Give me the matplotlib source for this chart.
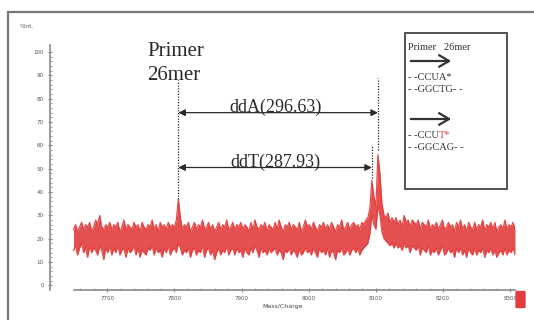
import numpy as np
import matplotlib

matplotlib.use("Agg")
import matplotlib.pyplot as plt
from matplotlib.patches import Rectangle, FancyBboxPatch, FancyArrowPatch
from matplotlib.ticker import FixedLocator

# spectrum binned every 3 m/z units starting at 7650;
# each bin keeps the highest and lowest point of the raw trace
MZ_START = 7650
MZ_STEP = 3
env_high = [
    24, 26, 23, 25, 27, 24, 26, 25, 27, 23, 25, 28, 26, 30, 25, 24, 26, 25, 27, 24,
    26, 25, 27, 23, 25, 28, 24, 26, 25, 24, 27, 25, 26, 23, 27, 25, 24, 26, 25, 28,
    24, 26, 23, 27, 25, 26, 24, 27, 25, 26, 25, 28, 37, 29, 24, 26, 25, 27, 23, 25,
    27, 24, 26, 25, 28, 24, 25, 27, 24, 26, 23, 25, 27, 24, 26, 25, 28, 24, 25, 27,
    24, 26, 25, 27, 24, 26, 25, 23, 27, 24, 28, 25, 24, 26, 25, 27, 23, 26, 25, 24,
    27, 24, 28, 25, 23, 26, 25, 27, 24, 26, 25, 24, 27, 23, 25, 28, 25, 26, 24, 27,
    25, 23, 26, 25, 27, 24, 26, 24, 27, 25, 23, 26, 25, 28, 24, 25, 27, 24, 26, 27,
    25, 26, 24, 27, 26, 28, 29, 33, 45, 38, 34, 56, 48, 35, 30, 29, 31, 27, 29, 27,
    29, 26, 28, 25, 30, 27, 28, 25, 28, 27, 26, 28, 24, 27, 26, 25, 28, 24, 26, 25,
    27, 24, 26, 28, 24, 25, 27, 25, 26, 23, 27, 25, 28, 24, 26, 23, 27, 25, 24, 27,
    24, 26, 25, 28, 23, 26, 25, 27, 24, 27, 23, 25, 26, 24, 28, 24, 26, 25, 27, 24,
]
env_low = [
    15, 17, 13, 16, 18, 14, 16, 12, 17, 14, 16, 15, 13, 17, 15, 11, 16, 14, 17, 13,
    16, 14, 17, 13, 15, 16, 12, 16, 14, 15, 17, 13, 16, 12, 15, 14, 13, 16, 15, 17,
    13, 16, 14, 15, 12, 16, 14, 17, 13, 15, 16, 14, 18, 16, 13, 15, 14, 16, 12, 15,
    16, 13, 15, 14, 17, 12, 15, 16, 13, 15, 11, 14, 16, 13, 15, 14, 17, 13, 15, 16,
    13, 16, 14, 15, 12, 16, 14, 13, 16, 14, 17, 15, 12, 16, 14, 15, 13, 16, 14, 15,
    16, 13, 15, 14, 11, 15, 14, 16, 13, 15, 14, 12, 16, 13, 14, 16, 14, 15, 13, 16,
    14, 12, 16, 14, 15, 13, 16, 12, 15, 14, 11, 15, 14, 16, 13, 14, 16, 13, 15, 16,
    14, 16, 13, 15, 16, 17, 18, 22, 30, 26, 24, 34, 30, 23, 20, 19, 18, 17, 18, 16,
    18, 16, 17, 15, 18, 16, 17, 14, 17, 16, 15, 17, 13, 16, 15, 14, 17, 13, 15, 14,
    16, 13, 15, 17, 13, 14, 16, 14, 15, 12, 16, 14, 16, 13, 15, 12, 16, 14, 13, 16,
    13, 15, 14, 16, 12, 15, 14, 16, 13, 15, 12, 14, 15, 13, 16, 13, 15, 14, 16, 13,
]
mz = MZ_START + MZ_STEP * np.arange(len(env_high))

# peak positions (m/z) and heights
primer_mz, primer_top = 7806, 37
ddT_mz, ddT_top = 8094, 45
ddA_mz, ddA_top = 8103, 56
ddA_label = "ddA(296.63)"
ddT_label = "ddT(287.93)"

x_ticks = [7700, 7800, 7900, 8000, 8100, 8200, 8300]
y_ticks = [0, 10, 20, 30, 40, 50, 60, 70, 80, 90, 100]

W, H = 534, 320
GRAY = "#8a8a8a"
INK = "#2a2a2a"
RED = "#e23c3c"
SERIF = ["Liberation Serif", "DejaVu Serif"]


def fx(px):
    return px / W


def fy(py):
    return 1 - py / H


fig = plt.figure(figsize=(W / 100, H / 100), dpi=100)
ax = fig.add_axes([fx(50), fy(290), fx(515) - fx(50), fy(45) - fy(290)])

# dense trace: solid band between the bin extremes, ragged edges on top
ax.fill_between(mz, env_low, env_high, color=RED, alpha=0.9, lw=0)
ax.plot(mz, env_high, color=RED, lw=0.9, alpha=0.9)
ax.plot(mz, env_low, color=RED, lw=0.9, alpha=0.9)

ax.set_xlim(7615, 8307)
ax.set_ylim(-2, 103)
for s in ("top", "right"):
    ax.spines[s].set_visible(False)
ax.spines["bottom"].set_bounds(7650, 8307)
ax.spines["left"].set_bounds(-2, 103)
for s in ("bottom", "left"):
    ax.spines[s].set_color(GRAY)
    ax.spines[s].set_linewidth(1.2)

ax.set_xticks(x_ticks)
ax.set_xticklabels([str(v) for v in x_ticks])
ax.xaxis.set_minor_locator(FixedLocator(list(range(7660, 8301, 20))))
ax.set_yticks(y_ticks)
ax.set_yticklabels([str(v) for v in y_ticks])
ax.yaxis.set_minor_locator(FixedLocator(list(range(0, 101, 2))))
ax.tick_params(axis="both", which="major", colors=GRAY, labelcolor="#555555",
               labelsize=4, length=3, width=0.8, direction="inout", pad=3)
ax.tick_params(axis="both", which="minor", colors=GRAY, length=1.5, width=0.6,
               direction="in")
ax.set_xlabel("Mass/Charge", fontsize=4.5, color="#444444", labelpad=2)

# dotted markers at the primer and extension peaks
dot = dict(color=INK, lw=0.9, ls=(0, (1, 1.2)))
ax.plot([primer_mz, primer_mz], [primer_top, 88], **dot)
ax.plot([ddA_mz, ddA_mz], [ddA_top + 2, 89], **dot)
ax.plot([ddT_mz, ddT_mz], [ddT_top + 1, 60], **dot)

# mass difference arrows
arrow = dict(arrowstyle="<|-|>", color=INK, lw=0.9, mutation_scale=10,
             shrinkA=0, shrinkB=0)
ax.annotate("", xy=(ddA_mz, 74), xytext=(primer_mz, 74), arrowprops=arrow)
ax.annotate("", xy=(ddT_mz, 50.5), xytext=(primer_mz, 50.5), arrowprops=arrow)
ax.text(7951, 74.4, ddA_label, ha="center", va="baseline", fontsize=13,
        family=SERIF, color=INK)
ax.text(7951, 50.9, ddT_label, ha="center", va="baseline", fontsize=13,
        family=SERIF, color=INK)

fig.text(fx(147), fy(51), "Primer", ha="left", va="center", fontsize=15,
         family=SERIF, color=INK)
fig.text(fx(147), fy(76), "26mer", ha="left", va="center", fontsize=15,
         family=SERIF, color=INK)

fig.text(fx(27), fy(27), "%Int.", fontsize=4, color="#555555",
         ha="center", va="center")

# outer frame
fig.patches.append(Rectangle((fx(8), fy(330)), 1.2, fy(12) - fy(330),
                             transform=fig.transFigure, fill=False,
                             ec="#777777", lw=1.6))

# legend box with the sequences
fig.patches.append(Rectangle((fx(405), fy(189)), fx(507) - fx(405),
                             fy(33) - fy(189), transform=fig.transFigure,
                             fill=False, ec="#444444", lw=1.3))
small = dict(fontsize=7.5, family=SERIF, color="#333333", va="center", ha="left")
fig.text(fx(408), fy(47), "Primer   26mer", **small)
for y in (61, 119):
    fig.patches.append(FancyArrowPatch(
        (fx(408), fy(y)), (fx(454), fy(y)), transform=fig.transFigure,
        arrowstyle="->,head_length=0.6,head_width=0.35", mutation_scale=12,
        lw=1.6, color="#333333"))
fig.text(fx(408), fy(77), "- -CCUA*", **small)
fig.text(fx(408), fy(90), "- -GGCTG- -", **small)
t1 = fig.text(fx(408), fy(135), "- -CCU", **small)
fig.text(fx(408), fy(148), "- -GGCAG- -", **small)
fig.canvas.draw()
bb = t1.get_window_extent(fig.canvas.get_renderer())
fig.text(bb.x1 / fig.bbox.width, fy(135), "T*", **{**small, "color": RED})

# small red icon in the corner
fig.patches.append(FancyBboxPatch((fx(517), fy(307)), fx(7), fy(0) - fy(15),
                                  boxstyle="round,pad=0.002",
                                  transform=fig.transFigure,
                                  fc=RED, ec=RED, lw=0.8))

fig.savefig("out.png", dpi=100)
